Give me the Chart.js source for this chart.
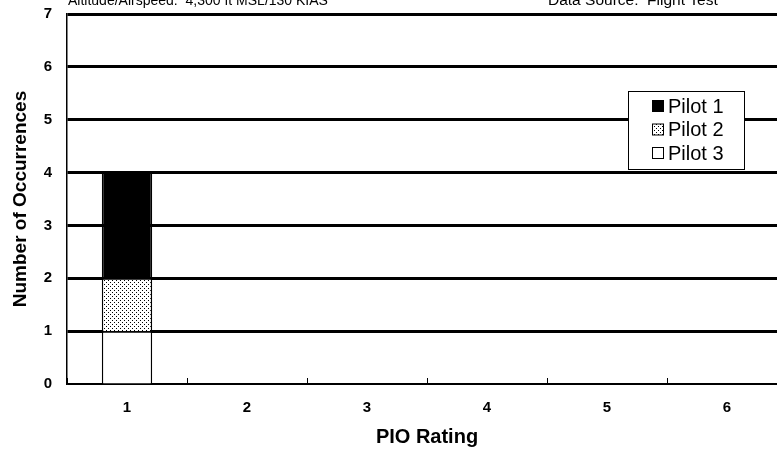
<!DOCTYPE html>
<html>
<head>
<meta charset="utf-8">
<script src="https://cdn.jsdelivr.net/npm/chart.js@4.4.0/dist/chart.umd.min.js"></script>
<style>
  html, body { margin: 0; padding: 0; background: #fff; overflow: hidden; }
  canvas { display: block; }
</style>
</head>
<body>
<canvas id="chart" width="790" height="454"></canvas>
<script>
// データ
const ratings = ['1', '2', '3', '4', '5', '6'];
const pilot1 = [2, 0, 0, 0, 0, 0];
const pilot2 = [1, 0, 0, 0, 0, 0];
const pilot3 = [1, 0, 0, 0, 0, 0];
const yTicks = [0, 1, 2, 3, 4, 5, 6, 7];
const headerLeft = 'Altitude/Airspeed:  4,300 ft MSL/130 KIAS';
const headerRight = 'Data Source:  Flight Test';
const FONT = '"Liberation Sans", Arial, sans-serif';

// 点描パターン (Pilot 2)
function makeDots() {
    const c = document.createElement('canvas');
    c.width = 4; c.height = 4;
    const g = c.getContext('2d');
    g.fillStyle = '#fff';
    g.fillRect(0, 0, 4, 4);
    g.fillStyle = '#000';
    g.fillRect(0, 0, 1, 1);
    g.fillRect(2, 2, 1, 1);
    return g.createPattern(c, 'repeat');
}
const dots = makeDots();

// 上部テキストと凡例を描くプラグイン
const extras = {
    id: 'extras',
    afterDraw(chart) {
        const ctx = chart.ctx;
        ctx.save();
        ctx.fillStyle = '#000';
        ctx.textBaseline = 'alphabetic';
        ctx.textAlign = 'left';
        ctx.font = '14px ' + FONT;
        ctx.fillText(headerLeft, 68, 5);
        ctx.font = '15.5px ' + FONT;
        ctx.fillText(headerRight, 548, 5);

        // 凡例
        const bx = 628, by = 91, bw = 116, bh = 78;
        ctx.fillStyle = '#fff';
        ctx.fillRect(bx, by, bw, bh);
        ctx.strokeStyle = '#000';
        ctx.lineWidth = 1;
        ctx.strokeRect(bx + 0.5, by + 0.5, bw, bh);
        const items = [
            { label: 'Pilot 1', fill: '#000' },
            { label: 'Pilot 2', fill: dots },
            { label: 'Pilot 3', fill: '#fff' }
        ];
        ctx.font = '20px ' + FONT;
        ctx.textBaseline = 'middle';
        items.forEach((it, i) => {
            const cy = by + 15 + i * 23.5;
            ctx.fillStyle = it.fill;
            ctx.fillRect(bx + 24, cy - 6, 12, 12);
            ctx.strokeRect(bx + 24.5, cy - 5.5, 11, 11);
            ctx.fillStyle = '#000';
            ctx.fillText(it.label, bx + 40, cy + 1);
        });
        ctx.restore();
    }
};

const ctx = document.getElementById('chart').getContext('2d');
new Chart(ctx, {
    type: 'bar',
    data: {
        labels: ratings,
        datasets: [
            { label: 'Pilot 3', data: pilot3, backgroundColor: '#fff', borderColor: '#000', borderWidth: 1.5 },
            { label: 'Pilot 2', data: pilot2, backgroundColor: dots, borderColor: '#000', borderWidth: 1.5 },
            { label: 'Pilot 1', data: pilot1, backgroundColor: '#000', borderColor: '#000', borderWidth: 1.5 }
        ]
    },
    options: {
        responsive: false,
        animation: false,
        datasets: { bar: { categoryPercentage: 1, barPercentage: 0.42 } },
        layout: { padding: { top: 14, right: 3, bottom: 0, left: 0 } },
        plugins: { legend: { display: false }, tooltip: { enabled: false } },
        scales: {
            x: {
                stacked: true,
                afterFit: (axis) => { axis.height = 70; axis.paddingLeft = 0; axis.paddingRight = 0; },
                grid: { offset: true, drawOnChartArea: false, drawTicks: true, tickLength: -6, color: '#000' },
                border: { color: '#000', width: 1.5 },
                ticks: { color: '#000', padding: 21, font: { family: FONT, size: 15, weight: 'bold' } },
                title: { display: true, text: 'PIO Rating', color: '#000', padding: { top: 0, bottom: 5 }, font: { family: FONT, size: 20, weight: 'bold' } }
            },
            y: {
                stacked: true,
                min: 0, max: 7,
                afterFit: (axis) => { axis.width = 67; axis.paddingTop = 0; axis.paddingBottom = 0; },
                afterBuildTicks: (axis) => { axis.ticks = yTicks.map(v => ({ value: v })); },
                grid: {
                    color: '#000',
                    lineWidth: (c) => (c.tick && c.tick.value === 0 ? 1 : 3),
                    drawTicks: false
                },
                border: { color: '#000', width: 1.5 },
                ticks: { color: '#000', padding: 15, font: { family: FONT, size: 15, weight: 'bold' } },
                title: { display: true, text: 'Number of Occurrences', color: '#000', padding: { top: 9, bottom: 0 }, font: { family: FONT, size: 19, weight: 'bold' } }
            }
        }
    },
    plugins: [extras]
});
</script>
</body>
</html>
